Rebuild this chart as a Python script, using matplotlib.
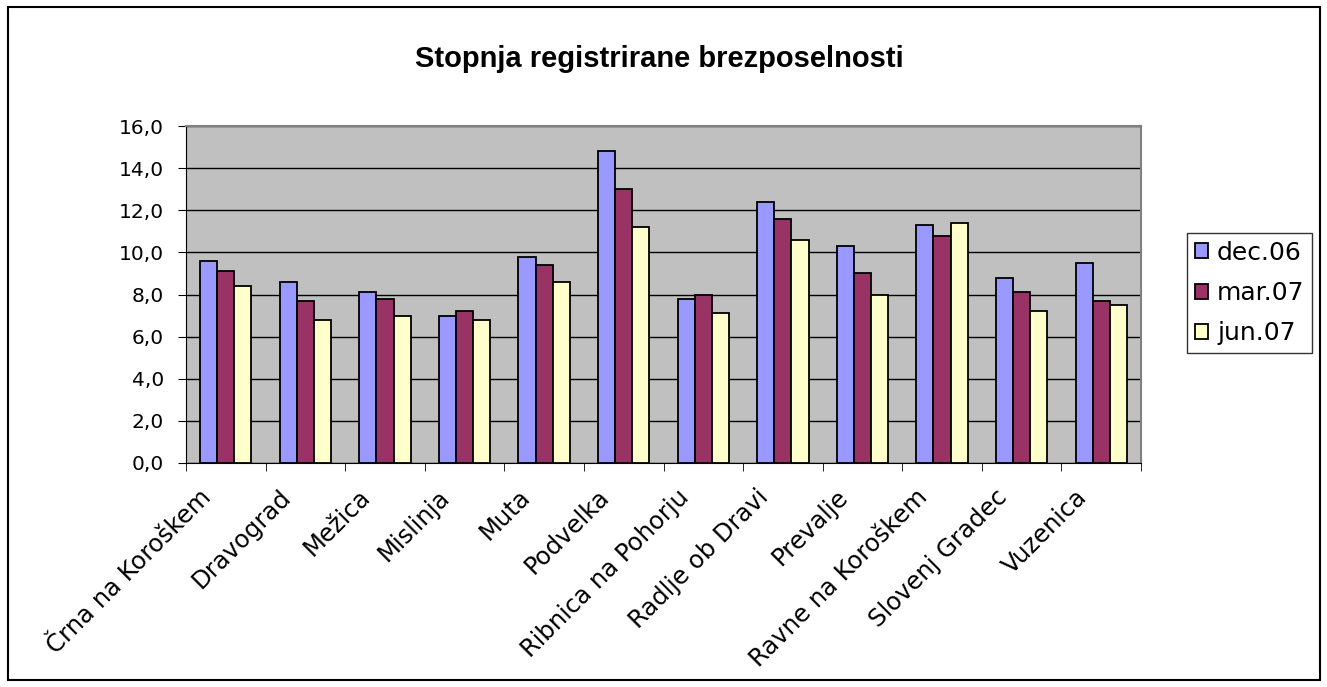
import matplotlib
matplotlib.use("Agg")
import matplotlib.pyplot as plt
import numpy as np
from matplotlib.ticker import FuncFormatter, MultipleLocator, FixedLocator
from matplotlib.patches import Rectangle
from matplotlib.transforms import ScaledTranslation

plt.rcParams['font.family'] = ['DejaVu Sans']

obcine = ["Črna na Koroškem", "Dravograd", "Mežica", "Mislinja", "Muta", "Podvelka",
          "Ribnica na Pohorju", "Radlje ob Dravi", "Prevalje", "Ravne na Koroškem",
          "Slovenj Gradec", "Vuzenica"]
dec06 = [9.6, 8.6, 8.1, 7.0, 9.8, 14.8, 7.8, 12.4, 10.3, 11.3, 8.8, 9.5]
mar07 = [9.1, 7.7, 7.8, 7.2, 9.4, 13.0, 8.0, 11.6, 9.0, 10.8, 8.1, 7.7]
jun07 = [8.4, 6.8, 7.0, 6.8, 8.6, 11.2, 7.1, 10.6, 8.0, 11.4, 7.2, 7.5]
serije = ["dec.06", "mar.07", "jun.07"]
barve = ["#9999FF", "#993366", "#FFFFCC"]

fig = plt.figure(figsize=(13.27, 6.87), dpi=100)
ax = fig.add_axes([186/1327, 1-463/687, 955/1327, 337/687])

x = np.arange(len(obcine))
w = 0.215
for i, (vals, name, c) in enumerate(zip([dec06, mar07, jun07], serije, barve)):
    ax.bar(x + (i-1)*w, vals, w, color=c, edgecolor="black", linewidth=1.3, label=name, zorder=3)

ax.set_facecolor("#C0C0C0")
ax.set_xlim(-0.5, len(obcine)-0.5)
ax.set_ylim(0, 16)
ax.yaxis.set_major_locator(MultipleLocator(2))
ax.yaxis.set_major_formatter(FuncFormatter(lambda v, p: f"{v:.1f}".replace(".", ",")))
ax.grid(axis="y", color="black", linewidth=1, zorder=1)

ax.set_xticks(x)
ax.set_xticklabels(obcine, rotation=45, ha="right", va="center", rotation_mode="anchor", fontsize=17.5)
ax.tick_params(axis="x", which="major", length=0, pad=22)
pomik = ScaledTranslation(-0.18, 0, fig.dpi_scale_trans)
for lab in ax.get_xticklabels():
    lab.set_transform(lab.get_transform() + pomik)
ax.xaxis.set_minor_locator(FixedLocator(np.arange(-0.5, len(obcine), 1)))
ax.tick_params(axis="x", which="minor", length=6, color="black", direction="out")
ax.tick_params(axis="y", length=6, labelsize=14.5, direction="out", pad=10)

for s in ["top", "right"]:
    ax.spines[s].set_color("#808080")
    ax.spines[s].set_linewidth(1.5)
ax.spines["left"].set_color("black")
ax.spines["bottom"].set_color("black")

fig.text(659/1327, 1-67/687, "Stopnja registrirane brezposelnosti", ha="center", va="baseline",
         fontsize=21, fontweight="bold", family=["Liberation Sans", "DejaVu Sans"])

leg = ax.legend(loc="center left", bbox_to_anchor=(1187/1327, 1-293/687),
                bbox_transform=fig.transFigure, fontsize=18, frameon=True, fancybox=False,
                edgecolor="black", borderpad=0.3, handlelength=0.55, handleheight=0.55,
                handletextpad=0.35, labelspacing=0.65, borderaxespad=0)
leg.get_frame().set_linewidth(1)

fig.patches.append(Rectangle((8/1327, 7/687), 1312/1327, 673/687, transform=fig.transFigure,
                             fill=False, edgecolor="black", linewidth=1.5))

fig.savefig("out.png", dpi=100)
